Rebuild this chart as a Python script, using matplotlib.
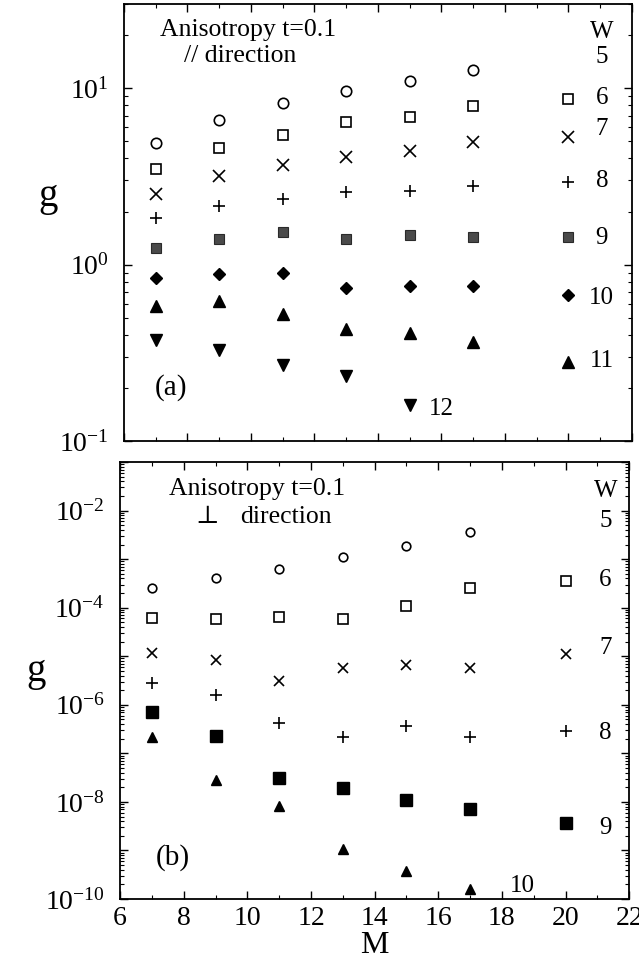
import matplotlib
matplotlib.use('Agg')
import matplotlib.pyplot as plt
import numpy as np
from matplotlib.ticker import MultipleLocator, LogLocator, NullFormatter, FuncFormatter

plt.rcParams['font.family'] = ['Liberation Serif', 'DejaVu Serif']
plt.rcParams['mathtext.fontset'] = 'stix'

# (a) // direction, g vs M for each W
M_all = [7, 9, 11, 13, 15, 17, 20]
M_par_w5 = [7, 9, 11, 13, 15, 17]
M_par_w12 = [7, 9, 11, 13, 15]
g_par_w5 = [4.9, 6.6, 8.2, 9.7, 11.0, 12.6]
g_par_w6 = [3.48, 4.6, 5.4, 6.45, 6.9, 7.9, 8.7]
g_par_w7 = [2.5, 3.16, 3.65, 4.1, 4.38, 4.95, 5.3]
g_par_w8 = [1.84, 2.14, 2.35, 2.57, 2.6, 2.78, 2.94]
g_par_w9 = [1.24, 1.4, 1.53, 1.4, 1.48, 1.43, 1.44]
g_par_w10 = [0.84, 0.88, 0.9, 0.74, 0.755, 0.755, 0.67]
g_par_w11 = [0.58, 0.625, 0.526, 0.432, 0.41, 0.363, 0.281]
g_par_w12 = [0.372, 0.326, 0.268, 0.235, 0.161]

# (b) perpendicular direction
M_perp_short = [7, 9, 11, 13, 15, 17]
g_perp_w5 = [2.54e-4, 4.1e-4, 6.3e-4, 1.1e-3, 1.85e-3, 3.7e-3]
g_perp_w6 = [6.2e-5, 5.75e-5, 6.4e-5, 5.9e-5, 1.08e-4, 2.57e-4, 3.5e-4]
g_perp_w7 = [1.19e-5, 8.3e-6, 3.06e-6, 5.6e-6, 6.7e-6, 5.6e-6, 1.13e-5]
g_perp_w8 = [2.83e-6, 1.58e-6, 4.3e-7, 2.13e-7, 3.7e-7, 2.13e-7, 2.88e-7]
g_perp_w9 = [7.2e-7, 2.3e-7, 3.16e-8, 1.97e-8, 1.1e-8, 7.1e-9, 3.65e-9]
g_perp_w10 = [2.2e-7, 2.83e-8, 8.3e-9, 1.06e-9, 3.7e-10, 1.63e-10]

fig = plt.figure(figsize=(6.39, 9.6), dpi=100)
ax1 = fig.add_axes([0.194, 0.5406, 0.795, 0.4552])
ax2 = fig.add_axes([0.188, 0.0635, 0.7966, 0.4552])

open_kw = dict(linestyle='none', mfc='none', mec='black', mew=1.2)
fill_kw = dict(linestyle='none', color='black')

# --- panel (a) ---
ax1.plot(M_par_w5, g_par_w5, marker='o', ms=7.5, **open_kw)
ax1.plot(M_all, g_par_w6, marker='s', ms=6.5, **open_kw)
ax1.plot(M_all, g_par_w7, marker='x', ms=8, **open_kw)
ax1.plot(M_all, g_par_w8, marker='+', ms=9, **open_kw)
ax1.plot(M_all, g_par_w9, marker='s', ms=7, linestyle='none', mfc='#4a4a4a', mec='#2a2a2a', mew=0.8)
ax1.plot(M_all, g_par_w10, marker='D', ms=6.5, **fill_kw)
ax1.plot(M_all, g_par_w11, marker='^', ms=9, **fill_kw)
ax1.plot(M_par_w12, g_par_w12, marker='v', ms=9, **fill_kw)

ax1.set_yscale('log')
ax1.set_xlim(6, 22)
ax1.set_ylim(0.1, 30)

for lab, yv in zip(['W', '5', '6', '7', '8', '9', '10', '11'],
                   [20.9, 15.0, 8.8, 5.9, 2.96, 1.42, 0.647, 0.284]):
    ax1.text(21.05, yv, lab, ha='center', va='center', fontsize=18)
ax1.text(16.0, 0.152, '12', ha='center', va='center', fontsize=18)

ax1.text(0.071, 0.941, 'Anisotropy t=0.1', transform=ax1.transAxes,
         ha='left', va='center', fontsize=18.5)
ax1.text(0.118, 0.880, '// direction', transform=ax1.transAxes,
         ha='left', va='center', fontsize=18.5)
ax1.text(0.061, 0.122, '(a)', transform=ax1.transAxes,
         ha='left', va='center', fontsize=21)

# --- panel (b) ---
ax2.plot(M_perp_short, g_perp_w5, marker='o', ms=6.2, **open_kw)
ax2.plot(M_all, g_perp_w6, marker='s', ms=7, **open_kw)
ax2.plot(M_all, g_perp_w7, marker='x', ms=6.5, **open_kw)
ax2.plot(M_all, g_perp_w8, marker='+', ms=8, **open_kw)
ax2.plot(M_all, g_perp_w9, marker='s', ms=8, **fill_kw)
ax2.plot(M_perp_short, g_perp_w10, marker='^', ms=7.5, **fill_kw)

ax2.set_yscale('log')
ax2.set_xlim(6, 22)
ax2.set_ylim(1e-10, 1e-1)

for lab, yv in zip(['W', '5', '6', '7', '8', '9'],
                   [2.58e-2, 6.2e-3, 3.65e-4, 1.5e-5, 2.58e-7, 2.88e-9]):
    ax2.text(21.25, yv, lab, ha='center', va='center', fontsize=18)
ax2.text(18.63, 1.82e-10, '10', ha='center', va='center', fontsize=18)

ax2.text(0.0956, 0.939, 'Anisotropy t=0.1', transform=ax2.transAxes,
         ha='left', va='center', fontsize=18.5)
ax2.text(0.148, 0.874, '\u22a5', transform=ax2.transAxes,
         ha='left', va='center', fontsize=18)
ax2.text(0.236, 0.874, 'direction', transform=ax2.transAxes,
         ha='left', va='center', fontsize=18.5)
ax2.text(0.0707, 0.094, '(b)', transform=ax2.transAxes,
         ha='left', va='center', fontsize=21)


def dec_label(v, pos):
    e = int(round(np.log10(v)))
    return r'$\mathregular{10^{%d}}$' % e


def even_dec_label(v, pos):
    e = int(round(np.log10(v)))
    if e % 2:
        return ''
    return r'$\mathregular{10^{%d}}$' % e


for ax in (ax1, ax2):
    ax.xaxis.set_major_locator(MultipleLocator(2))
    ax.xaxis.set_minor_locator(MultipleLocator(1))
    ax.yaxis.set_major_locator(LogLocator(base=10, numticks=20))
    ax.yaxis.set_minor_locator(LogLocator(base=10, subs=np.arange(2, 10), numticks=20))
    ax.yaxis.set_minor_formatter(NullFormatter())
    ax.tick_params(which='both', direction='in', top=True, right=True)
    ax.tick_params(which='major', length=6, width=1)
    ax.tick_params(which='minor', length=3, width=0.8)
    ax.tick_params(axis='y', which='major', labelsize=20, pad=11)
    ax.tick_params(axis='x', which='major', labelsize=20, pad=5)
    for s in ax.spines.values():
        s.set_linewidth(1.3)

ax1.yaxis.set_major_formatter(FuncFormatter(dec_label))
ax2.yaxis.set_major_formatter(FuncFormatter(even_dec_label))
ax1.tick_params(axis='x', labelbottom=False)

ax1.set_ylabel('g', fontsize=28, rotation=0, va='center')
ax1.yaxis.set_label_coords(-0.15, 0.56)
ax2.set_ylabel('g', fontsize=28, rotation=0, va='center')
ax2.yaxis.set_label_coords(-0.165, 0.52)
ax2.set_xlabel('M', fontsize=23, labelpad=0)

fig.savefig('out.png', dpi=100)
